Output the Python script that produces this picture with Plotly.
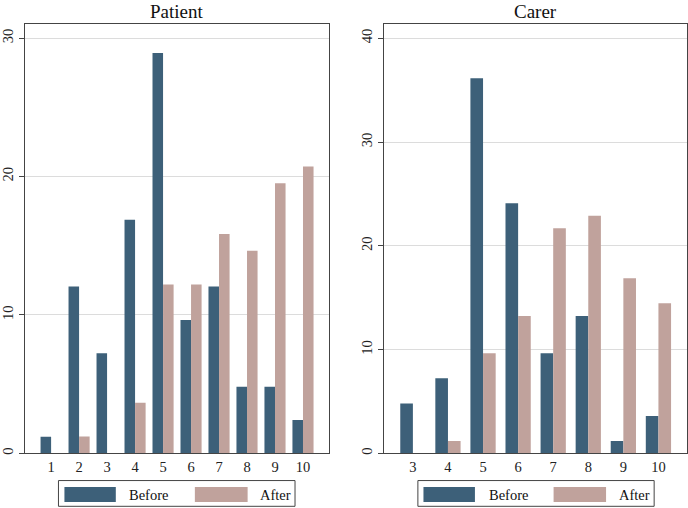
import plotly.graph_objects as go

# ---- data (percent) ----
patient_scores = [1, 2, 3, 4, 5, 6, 7, 8, 9, 10]
patient_before = [1.2, 12.05, 7.23, 16.87, 28.92, 9.64, 12.05, 4.82, 4.82, 2.41]
patient_after = [0, 1.22, 0, 3.66, 12.2, 12.2, 15.85, 14.63, 19.51, 20.73]

carer_scores = [3, 4, 5, 6, 7, 8, 9, 10]
carer_before = [4.82, 7.23, 36.14, 24.1, 9.64, 13.25, 1.2, 3.61]
carer_after = [0, 1.2, 9.64, 13.25, 21.69, 22.89, 16.87, 14.46]

series_names = ["Before", "After"]
panel_titles = ["Patient", "Carer"]

# ---- style ----
W, H = 688, 508
C_BEFORE = "#3D6079"
C_AFTER = "#C0A29C"
AX = "#444444"
GRID = "#DCDCDC"
FONT = "Liberation Serif"
TICK_SIZE = 14.5
LEG_SIZE = 14.5


def px_x(x):
    return x / W


def px_y(y):
    return 1 - y / H


fig = go.Figure()

panels = [
    (patient_scores, patient_before, patient_after, "x", "y", 0.377),
    (carer_scores, carer_before, carer_after, "x2", "y2", 0.36),
]
for cats, b, a, xa, ya, w in panels:
    fig.add_trace(go.Bar(x=cats, y=b, name=series_names[0], xaxis=xa, yaxis=ya,
                         width=w, offset=-w, marker=dict(color=C_BEFORE, line=dict(width=0)),
                         showlegend=False))
    fig.add_trace(go.Bar(x=cats, y=a, name=series_names[1], xaxis=xa, yaxis=ya,
                         width=w, offset=0, marker=dict(color=C_AFTER, line=dict(width=0)),
                         showlegend=False))

ydom = [px_y(454.3), px_y(24.3)]
common_x = dict(showline=True, mirror=True, linecolor=AX, linewidth=1, ticks="",
                showgrid=False, zeroline=False,
                tickfont=dict(family=FONT, size=TICK_SIZE, color="#222"),
                tickmode="array")
common_y = dict(showline=True, mirror=True, linecolor=AX, linewidth=1, ticks="outside",
                ticklen=5, tickcolor=AX, showgrid=True, gridcolor=GRID, gridwidth=1,
                zeroline=False, dtick=10, tick0=0, tickangle=-90,
                tickfont=dict(family=FONT, size=TICK_SIZE, color="#222"))

fig.update_layout(
    width=W, height=H,
    margin=dict(l=0, r=0, t=0, b=0),
    paper_bgcolor="white", plot_bgcolor="white",
    barmode="overlay",
    showlegend=False,
    xaxis=dict(domain=[px_x(22), px_x(327)], range=[0.064, 10.914],
               tickvals=patient_scores, ticktext=[str(v) for v in patient_scores],
               anchor="y", **common_x),
    yaxis=dict(domain=ydom, range=[0, 31.0], anchor="x", **common_y),
    xaxis2=dict(domain=[px_x(382.3), px_x(687.3)], range=[2.166, 10.823],
                tickvals=carer_scores, ticktext=[str(v) for v in carer_scores],
                anchor="y2", **common_x),
    yaxis2=dict(domain=ydom, range=[0, 41.35], anchor="x2", **common_y),
)

# panel titles
for title, cx in zip(panel_titles, [174.5, 534.8]):
    fig.add_annotation(text=title, x=px_x(cx), y=px_y(12), xref="paper", yref="paper",
                       showarrow=False, xanchor="center", yanchor="middle",
                       font=dict(family=FONT, size=19, color="#111"))

# legends (one boxed key under each panel)
legend_specs = [
    # box x0, x1, before swatch x0,x1, before text x, after swatch x0,x1, after text x
    (55.7, 293.3, 61.7, 113.3, 126, 192.7, 245.7, 256.7),
    (416.7, 654.0, 422.3, 474.0, 486.7, 553.0, 605.7, 617.3),
]
for bx0, bx1, s1a, s1b, t1, s2a, s2b, t2 in legend_specs:
    fig.add_shape(type="rect", xref="paper", yref="paper",
                  x0=px_x(bx0), x1=px_x(bx1), y0=px_y(507.3), y1=px_y(481.5),
                  line=dict(color=AX, width=1), fillcolor="white")
    fig.add_shape(type="rect", xref="paper", yref="paper",
                  x0=px_x(s1a), x1=px_x(s1b), y0=px_y(503), y1=px_y(488),
                  line=dict(width=0), fillcolor=C_BEFORE)
    fig.add_shape(type="rect", xref="paper", yref="paper",
                  x0=px_x(s2a), x1=px_x(s2b), y0=px_y(503), y1=px_y(488),
                  line=dict(width=0), fillcolor=C_AFTER)
    for txt, tx in zip(series_names, [t1, t2]):
        fig.add_annotation(text=txt, x=px_x(tx - 1), y=px_y(495.5), xref="paper", yref="paper",
                           showarrow=False, xanchor="left", yanchor="middle",
                           font=dict(family=FONT, size=LEG_SIZE, color="#111"))

fig.write_html(
    "out.html",
    config={"displayModeBar": False},
    post_script="document.body.style.margin='0';document.body.style.padding='0';"
                "document.body.style.overflow='hidden';",
)
